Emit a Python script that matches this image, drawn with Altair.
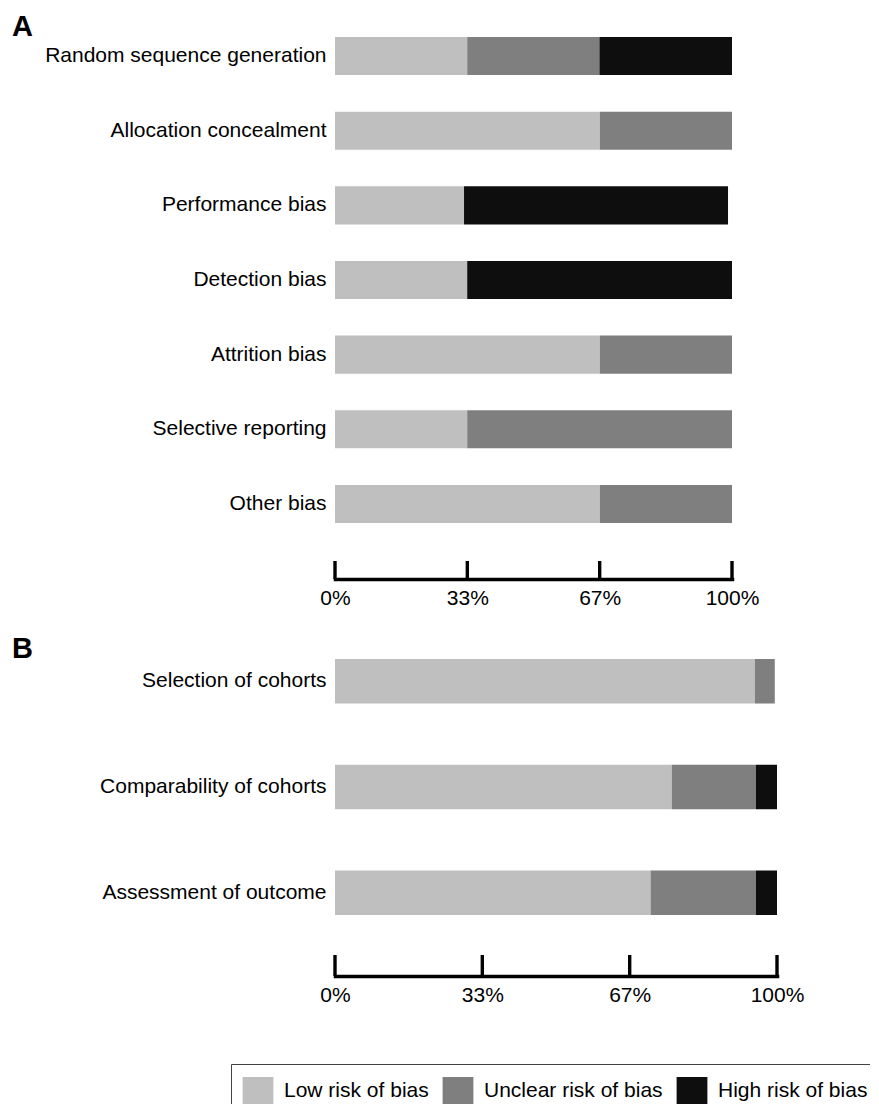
import altair as alt
import pandas as pd

# ---- data ----
cats_a = ["Random sequence generation", "Allocation concealment", "Performance bias",
          "Detection bias", "Attrition bias", "Selective reporting", "Other bias"]
low_a = [33.3, 66.7, 32.5, 33.3, 66.7, 33.3, 66.7]
unclear_a = [33.3, 33.3, 0, 0, 33.3, 66.7, 33.3]
high_a = [33.4, 0, 66.5, 66.7, 0, 0, 0]

cats_b = ["Selection of cohorts", "Comparability of cohorts", "Assessment of outcome"]
low_b = [95.0, 76.2, 71.4]
unclear_b = [4.5, 19.0, 23.8]
high_b = [0, 4.8, 4.8]

risk_levels = ["Low risk of bias", "Unclear risk of bias", "High risk of bias"]
risk_colors = ["#bfbfbf", "#7f7f7f", "#0e0e0e"]
tick_values = [0, 33.33, 66.67, 100]

FONT = "Liberation Sans"


def long_df(cats, low, unclear, high):
    rows = []
    for i, c in enumerate(cats):
        for k, (lvl, vals) in enumerate(zip(risk_levels, [low, unclear, high])):
            if vals[i] > 0:
                rows.append({"category": c, "risk": lvl, "value": vals[i], "idx": k})
    return pd.DataFrame(rows)


def panel(cats, low, unclear, high, title, w, h, pinner, offset, tick_len, show_legend):
    df = long_df(cats, low, unclear, high)
    xscale = alt.Scale(domain=[0, 100], nice=False, zero=True)
    xaxis = alt.Axis(values=tick_values, labelExpr="round(datum.value) + '%'",
                     title=None, grid=False, ticks=False, tickSize=0,
                     domainWidth=3.5, domainColor="black", domainCap="square",
                     offset=offset, labelFontSize=21, labelFont=FONT,
                     labelPadding=8, labelColor="black", labelFlush=False)
    legend = None
    if show_legend:
        legend = alt.Legend(
            title=None, orient="none", legendX=-104, legendY=405,
            direction="horizontal", columns=3,
            symbolType="M-1.1,-1H1.1V1H-1.1Z", symbolSize=784,
            symbolStrokeWidth=0, labelFontSize=21, labelFont=FONT, labelColor="black",
            labelOffset=12, columnPadding=13, padding=13, strokeColor="#444",
            labelLimit=400, symbolOpacity=1,
        )
    bars = alt.Chart(df).mark_bar().encode(
        x=alt.X("value:Q", stack="zero", scale=xscale, axis=xaxis),
        y=alt.Y("category:N", sort=cats,
                scale=alt.Scale(paddingInner=pinner, paddingOuter=0),
                axis=alt.Axis(title=None, domain=False, ticks=False, labelFontSize=21,
                              labelFont=FONT, labelPadding=9, labelLimit=400,
                              labelColor="black", minExtent=300)),
        color=alt.Color("risk:N", scale=alt.Scale(domain=risk_levels, range=risk_colors),
                        legend=legend),
        order=alt.Order("idx:Q"),
    )
    tdf = pd.DataFrame({"value": tick_values})
    ticks = alt.Chart(tdf).mark_rule(color="black", strokeWidth=3.4).encode(
        x=alt.X("value:Q", scale=xscale, axis=xaxis),
        y=alt.value(h + offset - tick_len),
        y2=alt.value(h + offset),
    )
    return alt.layer(bars, ticks).properties(
        width=w, height=h,
        title=alt.TitleParams(title, anchor="start", frame="group", dx=-323,
                              fontSize=29, fontWeight="bold", font=FONT,
                              color="black", offset=-34, baseline="bottom"),
    )


pa = panel(cats_a, low_a, unclear_a, high_a, "A", 397, 486, 0.49, 56, 18, False)
pb = panel(cats_b, low_b, unclear_b, high_b, "B", 442, 256, 0.578, 61, 21, True)

chart = alt.vconcat(pa, pb, spacing=27).resolve_scale(color="independent").properties(
    padding={"left": 4, "top": 5, "right": -12, "bottom": -15}
).configure(font=FONT).configure_view(stroke=None)

chart.save("out.html", embed_options={"renderer": "svg", "actions": False})
